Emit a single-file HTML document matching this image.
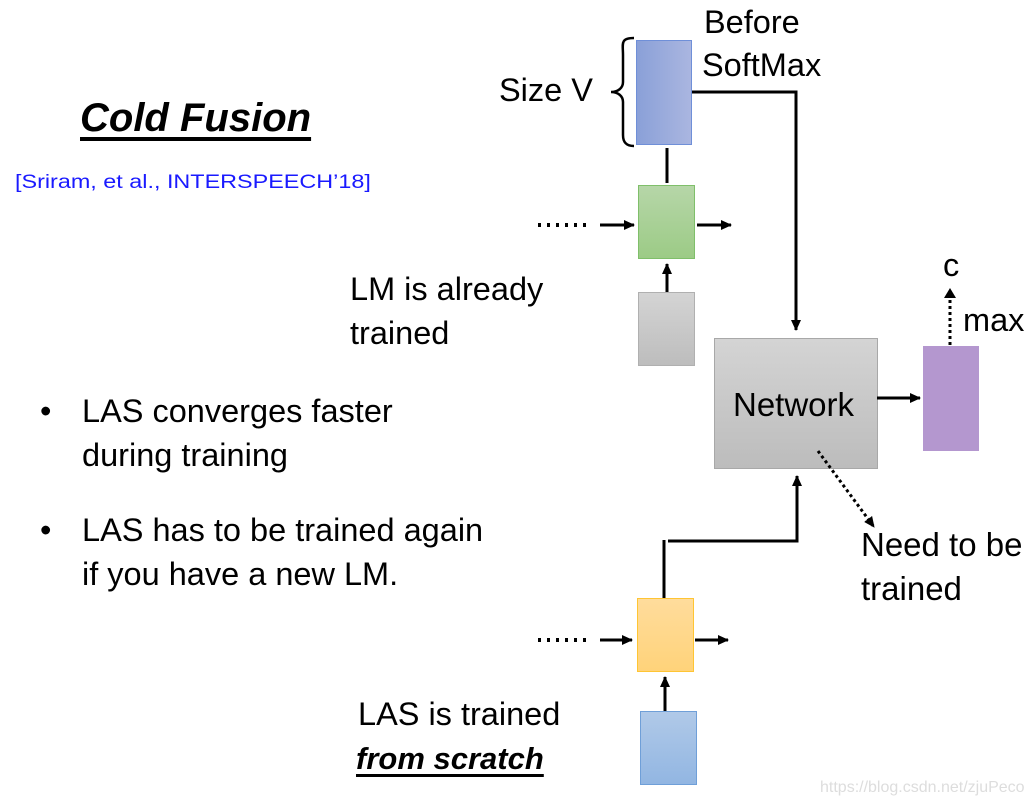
<!DOCTYPE html>
<html><head><meta charset="utf-8"><style>
body{margin:0;width:1032px;height:806px;background:#fff;position:relative;overflow:hidden;font-family:"Liberation Sans",sans-serif;color:#000}
.t{position:absolute;font-size:32.5px;line-height:44px;white-space:nowrap}
.b{position:absolute;box-sizing:border-box}
</style></head><body>
<div class="t" style="left:80px;top:96px;font-size:40px;font-weight:bold;font-style:italic;text-decoration:underline;text-underline-offset:6px">Cold Fusion</div>
<div class="t" style="left:15px;top:170px;font-size:19px;line-height:26px;color:#1a1aff;transform:scaleX(1.23);transform-origin:left">[Sriram, et al., INTERSPEECH’18]</div>
<div class="t" style="left:704px;top:0px">Before</div>
<div class="t" style="left:702px;top:43px">SoftMax</div>
<div class="t" style="left:499px;top:68px">Size V</div>
<div class="t" style="left:350px;top:267px">LM is already<br>trained</div>
<div class="t" style="left:40px;top:389px">•</div>
<div class="t" style="left:82px;top:389px">LAS converges faster<br>during training</div>
<div class="t" style="left:40px;top:508px">•</div>
<div class="t" style="left:82px;top:508px">LAS has to be trained again<br>if you have a new LM.</div>
<div class="t" style="left:861px;top:523px;font-size:33px">Need to be<br>trained</div>
<div class="t" style="left:358px;top:692px">LAS is trained</div>
<div class="t" style="left:356px;top:737px;font-size:31px;font-weight:bold;font-style:italic;text-decoration:underline;text-underline-offset:5px">from scratch</div>
<div class="t" style="left:943px;top:243px">c</div>
<div class="t" style="left:963px;top:298px">max</div>
<div class="t" style="left:820px;top:778px;font-size:16px;line-height:20px;color:#ddd">https://blog.csdn.net/zjuPeco</div>

<div class="b" style="left:636px;top:40px;width:56px;height:105px;background:linear-gradient(90deg,#8aa0d8,#aab6e0);border:1px solid #6f8fd8"></div>
<div class="b" style="left:638px;top:185px;width:57px;height:74px;background:linear-gradient(#b6d6a8,#9ccb86);border:1px solid #7fbf6a"></div>
<div class="b" style="left:638px;top:292px;width:57px;height:74px;background:linear-gradient(#d4d4d4,#bdbdbd);border:1px solid #b0b0b0"></div>
<div class="b" style="left:714px;top:338px;width:164px;height:131px;background:linear-gradient(#d4d4d4,#bcbcbc);border:1px solid #a8a8a8"></div>
<div class="t" style="left:733px;top:383px;font-size:33px">Network</div>
<div class="b" style="left:923px;top:346px;width:56px;height:105px;background:#b497cf"></div>
<div class="b" style="left:637px;top:598px;width:57px;height:74px;background:linear-gradient(#ffdc9c,#ffd37a);border:1px solid #ffc533"></div>
<div class="b" style="left:640px;top:711px;width:57px;height:74px;background:linear-gradient(#b0c9e8,#92b6e2);border:1px solid #6f9fd8"></div>

<svg width="1032" height="806" style="position:absolute;left:0;top:0">
<defs><marker id="h" markerWidth="12" markerHeight="12" refX="10" refY="5" orient="auto" markerUnits="userSpaceOnUse"><path d="M0,0L11,5L0,10z" fill="#000"/></marker></defs>
<g stroke="#000" stroke-width="3" fill="none">
<path d="M634,38 C620,38 623,44 623,55 L623,82 C623,88 618,92 611,92 C618,92 623,96 623,102 L623,135 C623,142 626,146 634,146" stroke-width="2.5"/>
<line x1="667" y1="148" x2="667" y2="183"/>
<line x1="667" y1="292" x2="667" y2="264" marker-end="url(#h)"/>
<path d="M692,92 H796 V330" marker-end="url(#h)"/>
<line x1="600" y1="225" x2="634" y2="225" marker-end="url(#h)"/>
<line x1="697" y1="225" x2="731" y2="225" marker-end="url(#h)"/>
<line x1="877" y1="398" x2="920" y2="398" marker-end="url(#h)"/>
<line x1="950" y1="345" x2="950" y2="296" stroke-dasharray="3 3"/>
<line x1="818" y1="451" x2="874" y2="527" stroke-dasharray="3 3" marker-end="url(#h)"/>
<line x1="664" y1="598" x2="664" y2="540"/>
<path d="M668,541 H797 V476" marker-end="url(#h)"/>
<line x1="600" y1="640" x2="632" y2="640" marker-end="url(#h)"/>
<line x1="695" y1="640" x2="728" y2="640" marker-end="url(#h)"/>
<line x1="665" y1="711" x2="665" y2="677" marker-end="url(#h)"/>
<line x1="538" y1="225" x2="592" y2="225" stroke-dasharray="3 6" stroke-width="4"/>
<line x1="538" y1="640" x2="592" y2="640" stroke-dasharray="3 6" stroke-width="4"/>
</g>
<path d="M944,298 L950,288 L956,298z" fill="#000"/>
</svg>
</body></html>
